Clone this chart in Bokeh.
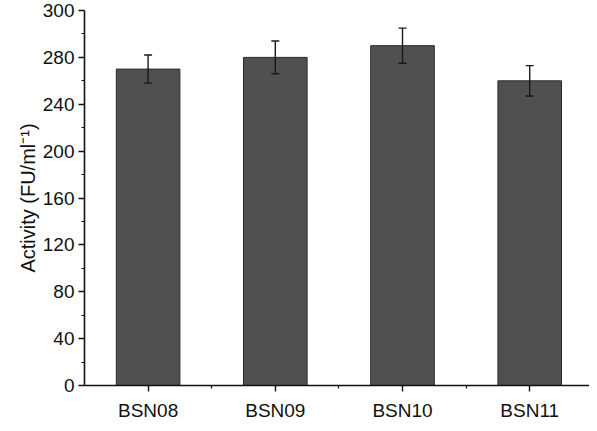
from bokeh.plotting import figure
from bokeh.models import ColumnDataSource, FixedTicker, Range1d, Whisker, TeeHead
from bokeh.embed import file_html
from bokeh.resources import INLINE

strains = ["BSN08", "BSN09", "BSN10", "BSN11"]
activity = [270, 280, 290, 260]
errors = [12, 14, 15, 13]
y_ticks = [0, 40, 80, 120, 160, 200, 240, 280, 320]
y_tick_labels = ["0", "40", "80", "120", "160", "200", "240", "280", "300"]
y_title = "Activity (FU/ml\u207b\u00b9)"

xs = list(range(1, len(strains) + 1))
src = ColumnDataSource(dict(
    x=xs, top=activity,
    upper=[a + e for a, e in zip(activity, errors)],
    lower=[a - e for a, e in zip(activity, errors)],
))

FONT = "Liberation Sans"
p = figure(width=589, height=423, output_backend="svg", toolbar_location=None,
           x_range=Range1d(0.5, 4.47), y_range=Range1d(0, 320),
           min_border_left=84, min_border_top=10, min_border_bottom=38, min_border_right=0)
p.outline_line_color = None
p.xgrid.visible = False
p.ygrid.visible = False

p.vbar(x="x", top="top", width=0.5, source=src, fill_color="#505050",
       line_color="#2a2a2a", line_width=1)
w = Whisker(base="x", upper="upper", lower="lower", source=src,
            line_color="#1a1a1a", line_width=1.4, level="overlay",
            upper_head=TeeHead(size=8, line_color="#1a1a1a", line_width=1.4),
            lower_head=TeeHead(size=8, line_color="#1a1a1a", line_width=1.4))
p.add_layout(w)

p.xaxis.ticker = FixedTicker(ticks=xs, minor_ticks=[x + 0.5 for x in xs[:-1]])
p.xaxis.major_label_overrides = {x: s for x, s in zip(xs, strains)}
p.yaxis.ticker = FixedTicker(ticks=y_ticks, minor_ticks=[t + 20 for t in y_ticks[:-1]])
p.yaxis.major_label_overrides = {t: s for t, s in zip(y_ticks, y_tick_labels)}

for ax in (p.xaxis, p.yaxis):
    ax.axis_line_width = 1.6
    ax.axis_line_color = "#111111"
    ax.major_tick_line_color = "#111111"
    ax.minor_tick_line_color = "#111111"
    ax.major_tick_line_width = 1.4
    ax.minor_tick_line_width = 1.2
    ax.major_tick_in = 0
    ax.major_tick_out = 6
    ax.minor_tick_in = 0
    ax.minor_tick_out = 3
    ax.major_label_text_font = FONT
    ax.major_label_text_font_size = "19px"
    ax.major_label_text_color = "#111111"

p.xaxis.major_label_standoff = 8
p.yaxis.major_label_standoff = 4
p.yaxis.axis_label = y_title
p.yaxis.axis_label_text_font = FONT
p.yaxis.axis_label_text_font_style = "normal"
p.yaxis.axis_label_text_font_size = "20px"
p.yaxis.axis_label_text_color = "#111111"
p.yaxis.axis_label_standoff = 1

open("out.html", "w").write(file_html(p, INLINE))
